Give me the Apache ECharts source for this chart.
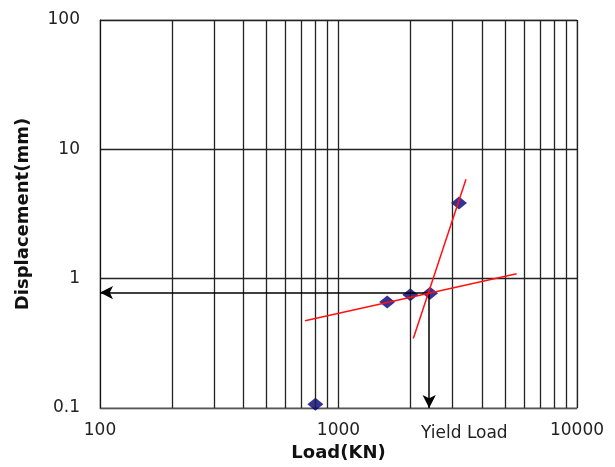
<!DOCTYPE html>
<html>
<head>
<meta charset="utf-8">
<script src="https://cdn.jsdelivr.net/npm/echarts@6/dist/echarts.min.js"></script>
<style>html,body{margin:0;padding:0;background:#fff;overflow:hidden}#c{width:615px;height:467px}</style>
</head>
<body>
<div id="c"></div>
<script>
// Data
var loads = [800, 1600, 2000, 2420, 3200];
var displacements = [0.107, 0.66, 0.75, 0.77, 3.85];
var fitLowX = [724, 5585];
var fitLowY = [0.473, 1.093];
var fitHighX = [2059, 3424];
var fitHighY = [0.345, 5.88];
var yieldLoad = 2400;
var yieldDisp = 0.78;
var minorGridX = [200, 300, 400, 500, 600, 700, 800, 900, 2000, 3000, 4000, 5000, 6000, 7000, 8000, 9000];
var xTickLabels = ['100', '1000', '10000'];
var yTickLabels = ['0.1', '1', '10', '100'];
var xRange = [100, 10000];
var yRange = [0.1, 100];

var font = '"DejaVu Sans", sans-serif';
var chart = echarts.init(document.getElementById('c'), null, {renderer: 'canvas'});

function pairs(xs, ys) { return xs.map(function (x, i) { return [x, ys[i]]; }); }
function decadeLabel(labels, min) {
  return function (v) {
    var idx = Math.round(Math.log10(v / min));
    return labels[idx] !== undefined ? labels[idx] : '';
  };
}

chart.setOption({
  animation: false,
  backgroundColor: '#ffffff',
  grid: {left: 100, top: 20, right: 38, bottom: 55, show: true, borderColor: '#a8a8a8', borderWidth: 1},
  xAxis: {
    type: 'log', logBase: 10, min: xRange[0], max: xRange[1],
    name: 'Load(KN)', nameLocation: 'middle', nameGap: 36,
    nameTextStyle: {fontFamily: font, fontSize: 18, fontWeight: 'bold', color: '#111'},
    axisLine: {show: true, onZero: false, lineStyle: {color: '#555', width: 1}},
    axisTick: {show: false},
    axisLabel: {fontFamily: font, fontSize: 17, color: '#222', margin: 14, formatter: decadeLabel(xTickLabels, xRange[0])},
    splitLine: {show: true, lineStyle: {color: '#222', width: 1.3}}
  },
  yAxis: {
    type: 'log', logBase: 10, min: yRange[0], max: yRange[1],
    name: 'Displacement(mm)', nameLocation: 'middle', nameGap: 68,
    nameTextStyle: {fontFamily: font, fontSize: 18, fontWeight: 'bold', color: '#111'},
    axisLine: {show: true, onZero: false, lineStyle: {color: '#111', width: 1}},
    axisTick: {show: false},
    axisLabel: {fontFamily: font, fontSize: 17, color: '#222', margin: 20, formatter: decadeLabel(yTickLabels, yRange[0])},
    splitLine: {show: true, lineStyle: {color: '#222', width: 1.3}}
  },
  graphic: [{
    type: 'text', left: 421, top: 425,
    style: {text: 'Yield Load', font: '17px ' + font, fill: '#222'}
  }],
  series: [
    {
      type: 'line', data: [], silent: true,
      markLine: {
        silent: true, symbol: ['none', 'none'], label: {show: false},
        lineStyle: {color: '#222', width: 1.3, type: 'solid'},
        data: minorGridX.map(function (v) { return {xAxis: v}; })
      }
    },
    {
      type: 'line', data: [], silent: true, z: 3,
      markLine: {
        silent: true, symbol: ['none', 'arrow'], symbolSize: [10, 13], label: {show: false},
        lineStyle: {color: '#000', width: 1.5, type: 'solid'},
        data: [
          [{coord: [yieldLoad, yieldDisp]}, {coord: [xRange[0], yieldDisp]}],
          [{coord: [yieldLoad, yieldDisp]}, {coord: [yieldLoad, yRange[0]]}]
        ]
      }
    },
    {
      type: 'scatter', data: pairs(loads, displacements), z: 4,
      symbol: 'diamond', symbolSize: [16, 13],
      itemStyle: {color: '#00007a'}
    },
    {
      type: 'line', data: pairs(fitLowX, fitLowY), z: 5, showSymbol: false, symbol: 'none',
      lineStyle: {color: '#ff1111', width: 1.5}
    },
    {
      type: 'line', data: pairs(fitHighX, fitHighY), z: 5, showSymbol: false, symbol: 'none',
      lineStyle: {color: '#ff1111', width: 1.5}
    }
  ]
});
</script>
</body>
</html>
